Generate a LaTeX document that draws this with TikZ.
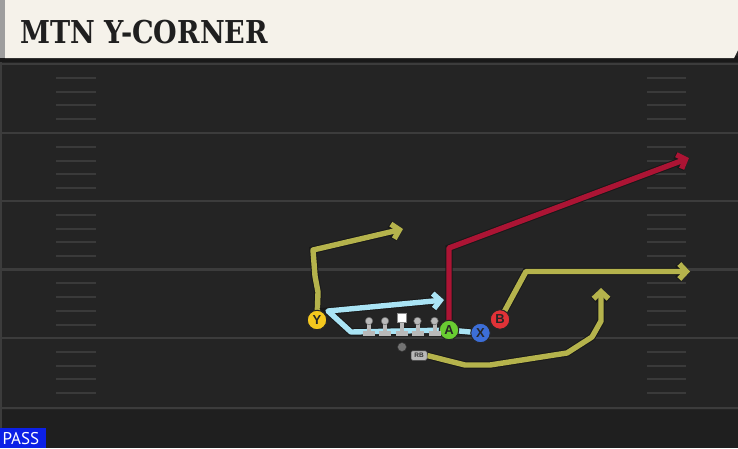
\documentclass[tikz,border=0pt]{standalone}
\usepackage{fontspec}
\usepackage{graphicx}
\usetikzlibrary{arrows.meta}
\newfontfamily\titlefont{DejaVu Serif}
\newfontfamily\pfont{Liberation Sans}
\newfontfamily\passfont{PT Sans}
\definecolor{fieldbg}{RGB}{36,36,36}
\definecolor{yardline}{RGB}{60,60,60}
\definecolor{hashc}{RGB}{58,58,58}
\definecolor{cream}{RGB}{245,242,234}
\definecolor{olive}{RGB}{181,179,76}
\definecolor{crimson}{RGB}{172,20,52}
\definecolor{skyb}{RGB}{170,228,245}
\definecolor{py}{RGB}{245,200,30}
\definecolor{pa}{RGB}{105,205,50}
\definecolor{px}{RGB}{60,110,215}
\definecolor{pb}{RGB}{225,50,55}
\definecolor{passblue}{RGB}{12,32,230}
\definecolor{olgray}{RGB}{185,185,185}
\pgfdeclarelayer{back}
\pgfdeclarelayer{mid}
\pgfsetlayers{back,mid,main}
\tikzset{
  route/.style={draw=#1, line width=5.4pt, line join=round, line cap=butt,
    -{Straight Barb[length=7pt,width=15pt]},
    preaction={draw=black!90, line width=7.4pt}},
  player/.style={circle, draw=black!85, line width=1, fill=#1, minimum size=19.5,
    inner sep=0, font=\pfont\bfseries\fontsize{13}{13}\selectfont, text=black!85},
  hashmark/.style={draw=hashc, line width=2},
  yardln/.style={draw=yardline, line width=2.2},
  lmhead/.style={circle, fill=olgray, draw=black!60, line width=0.5, minimum size=7.5, inner sep=0},
}
\begin{document}
\begin{tikzpicture}[x=1pt,y=-1pt]
\useasboundingbox (0,0) rectangle (738,448);
% players and linemen
\node[player=py] (Y) at (317,320) {Y};
\node[player=pa] (A) at (449,330) {A};
\node[player=px] (X) at (480.5,333) {X};
\node[player=pb] (B) at (500,319.5) {B};
\node[circle, fill=black!55, draw=black!80, line width=0.5, minimum size=9, inner sep=0] (QB) at (402,347) {};
\node[rounded corners=1.5, fill=olgray, draw=black!70, line width=0.5, minimum width=16, minimum height=9.5, inner sep=0,
  font=\pfont\bfseries\fontsize{6.5}{6.5}\selectfont, text=black!80] (RB) at (419,355.5) {RB};
\foreach \i/\xx in {1/369,2/385,4/417.5,5/434.5}{
  \fill[olgray] (\xx-6,330.5) rectangle (\xx+6,335.5);
  \fill[olgray] (\xx-2,322) rectangle (\xx+2,331);
  \node[lmhead] (L\i) at (\xx,321) {};
}
\fill[olgray] (395.5,330.5) rectangle (407.5,335.5);
\fill[olgray] (399.5,321) rectangle (403.5,331);
\node[fill=white, draw=black!45, line width=0.6, minimum size=9, inner sep=0] (C) at (401.5,318) {};
% field
\begin{pgfonlayer}{back}
\fill[fieldbg] (0,0) rectangle (738,448);
\fill[black!15!fieldbg] (0,410) rectangle (738,448);
\fill[yardline] (0,62) rectangle (2,448);
\foreach \yy in {64,133,201,269.5,338,408}{
  \draw[yardln] (2,\yy) -- (738,\yy);
}
\foreach \yy in {64,133,201,269.5,338}{
  \foreach \k in {1,2,3,4}{
    \draw[hashmark] (56,\yy+\k*13.8) -- (96,\yy+\k*13.8);
    \draw[hashmark] (647,\yy+\k*13.8) -- (686,\yy+\k*13.8);
  }
}
\fill[black!90] (0,56) rectangle (738,62);
\fill[cream] (5,0) -- (738,0) -- (738,50) -- (734,58) -- (5,58) -- cycle;
\fill[black!38] (0,0) rectangle (5,58);
\node[anchor=base west, inner sep=0, text=black!88] (title) at (20,43)
  {\scalebox{0.86}[1]{\titlefont\bfseries\fontsize{31.5}{31.5}\selectfont MTN Y-CORNER}};
\fill[passblue] (0,428) rectangle (46,448);
\node[anchor=base west, inner sep=0, text depth=0pt, text=white, font=\passfont\fontsize{17}{17}\selectfont] (pass) at (2.5,444.5) {PASS};
\end{pgfonlayer}
% routes
\begin{pgfonlayer}{mid}
\coordinate (y1) at (318,292);
\coordinate (y2) at (315,276);
\coordinate (y3) at (313,250);
\coordinate (yend) at (403,229);
\draw[route=olive] (Y.center) -- (y1) -- (y2) -- (y3) -- (yend);
\coordinate (x1) at (351,332);
\coordinate (x2) at (328,311);
\coordinate (xend) at (444,300);
\draw[route=skyb] (X.center) -- (A.center) -- (x1) -- (x2) -- (xend);
\coordinate (a1) at (449,248);
\coordinate (aend) at (689,158);
\draw[route=crimson] (A.center) -- (a1) -- (aend);
\coordinate (b1) at (526,271.5);
\coordinate (bend) at (690,271.5);
\draw[route=olive] (B.center) -- (b1) -- (bend);
\coordinate (r1) at (465,365);
\coordinate (r2) at (490,365);
\coordinate (r3) at (567,353);
\coordinate (r4) at (592,337);
\coordinate (r5) at (601,321);
\coordinate (rend) at (601,288);
\draw[route=olive] (RB.east) -- (r1) -- (r2) -- (r3) -- (r4) -- (r5) -- (rend);
\end{pgfonlayer}
\end{tikzpicture}
\end{document}
